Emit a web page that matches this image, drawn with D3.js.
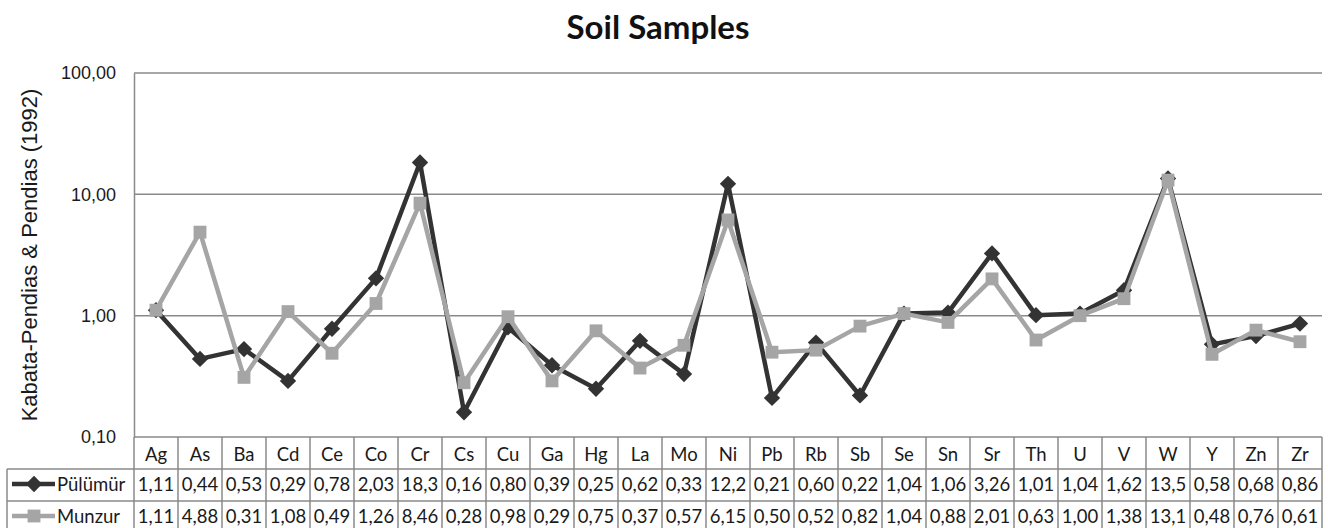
<!DOCTYPE html>
<html>
<head>
<meta charset="utf-8">
<script src="https://cdn.jsdelivr.net/npm/d3@7"></script>
<style>
  html, body { margin: 0; padding: 0; background: #fff; }
  svg { display: block; }
</style>
</head>
<body>
<svg id="chart" width="1328" height="528"></svg>
<script>
// Elements and their normalised concentrations
const elements = ["Ag","As","Ba","Cd","Ce","Co","Cr","Cs","Cu","Ga","Hg","La","Mo","Ni","Pb","Rb","Sb","Se","Sn","Sr","Th","U","V","W","Y","Zn","Zr"];
const pulumur = [1.11,0.44,0.53,0.29,0.78,2.03,18.3,0.16,0.80,0.39,0.25,0.62,0.33,12.2,0.21,0.60,0.22,1.04,1.06,3.26,1.01,1.04,1.62,13.5,0.58,0.68,0.86];
const munzur  = [1.11,4.88,0.31,1.08,0.49,1.26,8.46,0.28,0.98,0.29,0.75,0.37,0.57,6.15,0.50,0.52,0.82,1.04,0.88,2.01,0.63,1.00,1.38,13.1,0.48,0.76,0.61];
const yTicks = [0.1, 1, 10, 100];
const seriesNames = ["Pülümür", "Munzur"];

const series = [
  { name: seriesNames[0], values: pulumur, color: "#333333", shape: "diamond" },
  { name: seriesNames[1], values: munzur,  color: "#a5a5a5", shape: "square" }
];

const svg = d3.select("#chart");
const plot = { left: 134, right: 1322, top: 73, bottom: 437 };
const tableLeft = 7;
const rowH = 32;
const gridColor = "#8a8a8a";
const textColor = "#1a1a1a";

const x = d3.scaleBand().domain(elements).range([plot.left, plot.right]);
const y = d3.scaleLog().domain([0.1, 100]).range([plot.bottom, plot.top]);

// European decimal format: 0,10 / 1,00 ...
const fmt2 = v => d3.format(".2f")(v).replace(".", ",");
const fmtCell = v => (v >= 10 ? d3.format(".1f")(v) : d3.format(".2f")(v)).replace(".", ",");

// Title
svg.append("text")
  .attr("x", 658).attr("y", 39)
  .attr("text-anchor", "middle")
  .attr("font-family", "Lato, 'Open Sans', sans-serif")
  .attr("font-weight", "bold")
  .attr("font-size", 33)
  .attr("fill", "#111")
  .text("Soil Samples");

// Horizontal gridlines
svg.append("g").selectAll("line")
  .data(yTicks.slice(1))
  .join("line")
  .attr("x1", plot.left).attr("x2", plot.right)
  .attr("y1", d => y(d)).attr("y2", d => y(d))
  .attr("stroke", gridColor).attr("stroke-width", 1.5);

// Y axis
const yAxis = d3.axisLeft(y).tickValues(yTicks).tickFormat(fmt2).tickSize(0).tickPadding(18);
const gy = svg.append("g").attr("transform", `translate(${plot.left},0)`).call(yAxis);
gy.select(".domain").attr("stroke", gridColor).attr("stroke-width", 1.5);
gy.selectAll("text")
  .attr("font-family", "'Liberation Sans', Arial, sans-serif")
  .attr("font-size", 18)
  .attr("fill", textColor);

// Y axis title
svg.append("text")
  .attr("transform", `translate(29,255) rotate(-90)`)
  .attr("text-anchor", "middle")
  .attr("dominant-baseline", "central")
  .attr("font-family", "'Liberation Sans', Arial, sans-serif")
  .attr("font-size", 22)
  .attr("fill", textColor)
  .text("Kabata-Pendias & Pendias (1992)");

// Series lines and markers
const line = d3.line()
  .x((d, i) => x(elements[i]) + x.bandwidth() / 2)
  .y(d => y(d));

const diamond = d3.symbol().type(d3.symbolDiamond2).size(170);
const square = d3.symbol().type(d3.symbolSquare2).size(210);

series.forEach(s => {
  const g = svg.append("g");
  g.append("path")
    .attr("d", line(s.values))
    .attr("fill", "none")
    .attr("stroke", s.color)
    .attr("stroke-width", 4.5)
    .attr("stroke-linejoin", "round");
  g.selectAll("path.marker")
    .data(s.values)
    .join("path")
    .attr("class", "marker")
    .attr("transform", (d, i) => `translate(${x(elements[i]) + x.bandwidth() / 2},${y(d)})`)
    .attr("d", s.shape === "diamond" ? diamond() : square())
    .attr("fill", s.color);
});

// Data table below the plot
const table = svg.append("g");
const cellFont = "Lato, 'Open Sans', sans-serif";
const cellSize = 18.5;
const tableTop = plot.bottom;
const tableBottom = tableTop + rowH * 3;

// header row: category names
table.selectAll("text.head")
  .data(elements)
  .join("text")
  .attr("class", "head")
  .attr("x", d => x(d) + x.bandwidth() / 2)
  .attr("y", tableTop + rowH / 2 + 1)
  .attr("text-anchor", "middle")
  .attr("dominant-baseline", "central")
  .attr("font-family", cellFont)
  .attr("font-size", cellSize)
  .attr("fill", textColor)
  .text(d => d);

// value rows
series.forEach((s, r) => {
  const cy = tableTop + rowH * (r + 1) + rowH / 2 - 1;
  table.selectAll(`text.val${r}`)
    .data(s.values)
    .join("text")
    .attr("class", `val${r}`)
    .attr("x", (d, i) => x(elements[i]) + x.bandwidth() / 2)
    .attr("y", cy)
    .attr("text-anchor", "middle")
    .attr("dominant-baseline", "central")
    .attr("font-family", cellFont)
    .attr("font-size", cellSize)
    .attr("fill", textColor)
    .text(d => fmtCell(d));

  // legend key
  const kx0 = 12, kx1 = 55, kmid = 34;
  table.append("line")
    .attr("x1", kx0).attr("x2", kx1)
    .attr("y1", cy).attr("y2", cy)
    .attr("stroke", s.color).attr("stroke-width", 4.5);
  table.append("path")
    .attr("transform", `translate(${kmid},${cy})`)
    .attr("d", s.shape === "diamond" ? diamond() : square())
    .attr("fill", s.color);
  table.append("text")
    .attr("x", 57).attr("y", cy)
    .attr("dominant-baseline", "central")
    .attr("font-family", cellFont)
    .attr("font-size", cellSize)
    .attr("fill", textColor)
    .text(s.name);
});

// table grid
const hLines = [tableTop + rowH, tableTop + rowH * 2, tableBottom];
table.selectAll("line.h")
  .data(hLines)
  .join("line")
  .attr("class", "h")
  .attr("x1", tableLeft).attr("x2", plot.right)
  .attr("y1", d => d).attr("y2", d => d)
  .attr("stroke", gridColor).attr("stroke-width", 1.5);

const colEdges = elements.map(e => x(e)).concat([plot.right]);
table.selectAll("line.v")
  .data(colEdges)
  .join("line")
  .attr("class", "v")
  .attr("x1", d => d).attr("x2", d => d)
  .attr("y1", tableTop).attr("y2", tableBottom)
  .attr("stroke", gridColor).attr("stroke-width", 1.5);
table.append("line")
  .attr("x1", tableLeft).attr("x2", tableLeft)
  .attr("y1", tableTop + rowH).attr("y2", tableBottom)
  .attr("stroke", gridColor).attr("stroke-width", 1.5);
// line closing the top of the table
table.append("line")
  .attr("x1", plot.left).attr("x2", plot.right)
  .attr("y1", tableTop).attr("y2", tableTop)
  .attr("stroke", gridColor).attr("stroke-width", 1.5);
</script>
</body>
</html>
